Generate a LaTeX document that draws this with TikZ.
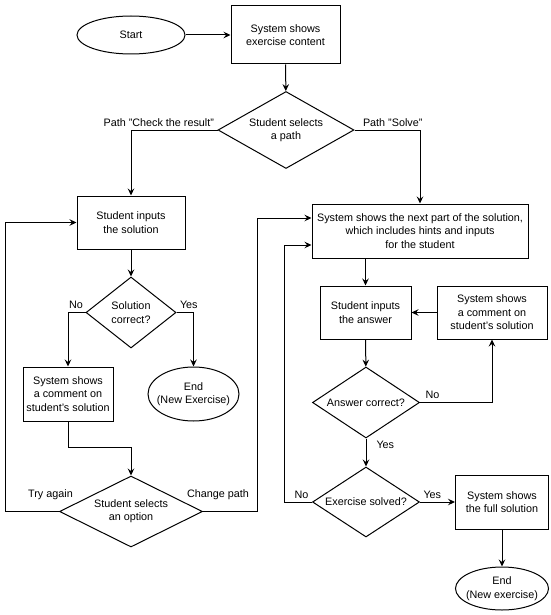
\documentclass[tikz,border=0pt]{standalone}
\usepackage{fontspec}
\setmainfont{Liberation Sans}
\usetikzlibrary{arrows.meta, shapes.geometric}

\begin{document}
\begin{tikzpicture}[x=1pt, y=-1pt, line width=1pt,
	>={Stealth[length=7pt, width=6.5pt, inset=2.5pt]},
	font=\fontsize{10.8}{13.4}\selectfont,
	box/.style={rectangle, draw, align=center, inner sep=0pt},
	term/.style={ellipse, draw, align=center, inner xsep=-5pt, inner ysep=0pt},
	choice/.style={diamond, draw, align=center, inner sep=0pt, shape aspect=2},
	lbl/.style={inner sep=0pt}]
	\useasboundingbox (0, 0) rectangle (550, 615);

	\node[term, minimum width=108, minimum height=38] (start) at (131, 35) {Start};
	\node[box, minimum width=109, minimum height=58] (show) at (285.5, 35) {System shows\\exercise content};
	\node[choice, minimum width=136, minimum height=77] (path) at (286, 130) {Student selects\\a path};

	\node[box, minimum width=108, minimum height=53] (inSol) at (131, 222.5) {Student inputs\\the solution};
	\node[choice, shape aspect=1.3, minimum width=90, minimum height=71] (corSol) at (131, 312.5) {Solution\\correct?};
	\node[box, minimum width=90, minimum height=54] (cmtL) at (68, 394) {System shows\\a comment on\\student's solution};
	\node[term, minimum width=91, minimum height=54] (endL) at (193.5, 394) {End\\(New Exercise)};
	\node[choice, minimum width=143, minimum height=71] (option) at (131, 511.5) {Student selects\\an option};

	\node[box, minimum width=216, minimum height=54] (next) at (420, 231) {System shows the next part of the solution,\\which includes hints and inputs\\for the student};
	\node[box, minimum width=91, minimum height=53] (inAns) at (365.5, 312.5) {Student inputs\\the answer};
	\node[box, minimum width=110, minimum height=53] (cmtR) at (492, 312.5) {System shows\\a comment on\\student's solution};
	\node[choice, minimum width=107, minimum height=71] (corAns) at (366, 402.5) {Answer correct?};
	\node[choice, minimum width=107, minimum height=70] (solved) at (366, 502) {Exercise solved?};
	\node[box, minimum width=93, minimum height=54] (full) at (502, 502) {System shows\\the full solution};
	\node[term, minimum width=93, minimum height=43] (endR) at (502, 588.5) {End\\(New exercise)};

	\coordinate (railL) at (5, 222.5);
	\coordinate (railA) at (257, 218);
	\coordinate (railB) at (284, 245);

	\draw[->] (start) -- (show);
	\draw[->] (show) -- (path);
	\draw[->] (path.west) -| (inSol.north);
	\draw[->] (path.east) -| (next.north);

	\draw[->] (inSol) -- (corSol);
	\draw[->] (corSol.west) -| (cmtL.north);
	\draw[->] (corSol.east) -| (endL.north);
	\draw[->] (cmtL.south) -- ++(0, 26) -| (option.north);
	\draw[->] (option.west) -| (railL) -- (inSol.west);
	\draw[->] (option.east) -| (railA) -- ([yshift=13pt]next.west);

	\draw[->] (inAns.north |- next.south) -- (inAns.north);
	\draw[->] (cmtR) -- (inAns);
	\draw[->] (inAns) -- (corAns);
	\draw[->] (corAns.east) -| (cmtR.south);
	\draw[->] (corAns) -- (solved);
	\draw[->] (solved.west) -| (railB) -- ([yshift=-14pt]next.west);
	\draw[->] (solved) -- (full);
	\draw[->] (full) -- (endR);

	\node[lbl, anchor=base east] at ([xshift=-3pt, yshift=4pt]path.west) {Path "Check the result"};
	\node[lbl, anchor=base west] at ([xshift=8pt, yshift=4pt]path.east) {Path "Solve"};
	\node[lbl, anchor=base east] at ([xshift=-2pt, yshift=4pt]corSol.west) {No};
	\node[lbl, anchor=base west] at ([xshift=3pt, yshift=4pt]corSol.east) {Yes};
	\node[lbl, anchor=base] at ([xshift=-8.5pt, yshift=14.5pt]option.west) {Try again};
	\node[lbl, anchor=base] at ([xshift=15pt, yshift=14.5pt]option.east) {Change path};
	\node[lbl, anchor=base west] at ([xshift=5pt, yshift=4pt]corAns.east) {No};
	\node[lbl, anchor=base west] at ([xshift=10pt, yshift=-10pt]corAns.south) {Yes};
	\node[lbl, anchor=base east] at ([xshift=-3pt, yshift=4pt]solved.west) {No};
	\node[lbl, anchor=base west] at ([xshift=3pt, yshift=4pt]solved.east) {Yes};
\end{tikzpicture}
\end{document}
